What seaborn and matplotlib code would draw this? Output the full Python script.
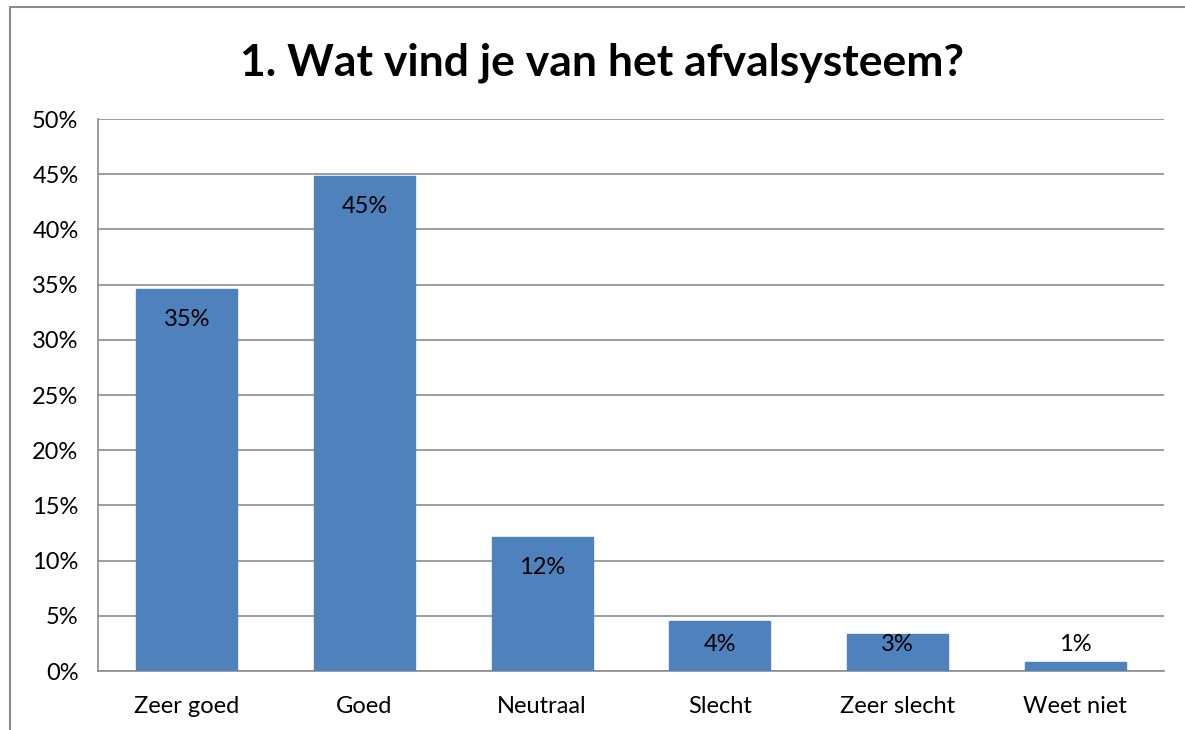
import matplotlib
matplotlib.use("Agg")
import matplotlib.pyplot as plt
from matplotlib.lines import Line2D
from matplotlib.ticker import MultipleLocator, FuncFormatter
import seaborn as sns
import pandas as pd

categories = ["Zeer goed", "Goed", "Neutraal", "Slecht", "Zeer slecht", "Weet niet"]
values = [34.6, 44.8, 12.1, 4.5, 3.35, 0.8]
labels = ["35%", "45%", "12%", "4%", "3%", "1%"]
title = "1. Wat vind je van het afvalsysteem?"

sns.set_style("white")
plt.rcParams["font.family"] = ["Lato", "DejaVu Sans"]
plt.rcParams["text.color"] = "black"

df = pd.DataFrame({"cat": categories, "val": values})

fig = plt.figure(figsize=(11.85, 7.3), dpi=100)
ax = fig.add_axes([98 / 1185, 59 / 730, (1164 - 98) / 1185, (671 - 119) / 730])

sns.barplot(data=df, x="cat", y="val", color="#4F81BD", saturation=1,
            width=0.57, ax=ax, zorder=3, edgecolor="#4F81BD")

ax.set_ylim(0, 50)
ax.set_xlim(-0.5, len(categories) - 0.5)
ax.yaxis.set_major_locator(MultipleLocator(5))
ax.yaxis.set_major_formatter(FuncFormatter(lambda v, p: f"{v:.0f}%"))
ax.grid(axis="y", color="#8c8c8c", linewidth=1.2, zorder=0)
ax.set_axisbelow(True)
ax.set_xlabel("")
ax.set_ylabel("")
for s in ["top", "right"]:
    ax.spines[s].set_visible(False)
for s in ["left", "bottom"]:
    ax.spines[s].set_color("#8c8c8c")
    ax.spines[s].set_linewidth(1.2)
ax.tick_params(axis="both", length=0, labelsize=17, colors="black")
ax.tick_params(axis="x", pad=18)
ax.tick_params(axis="y", pad=14)

# data labels: inside end, pushed up when bar is too short
for i, (v, lab) in enumerate(zip(values, labels)):
    y = max(v - 2.72, 2.36)
    ax.text(i, y, lab, ha="center", va="center", fontsize=17, color="black", zorder=4)

fig.suptitle(title, x=0.508, y=0.942, fontsize=32, fontweight="bold", color="black")

# outer chart frame
fig.add_artist(Line2D([10 / 1185, 10 / 1185], [0, 1 - 7 / 730], transform=fig.transFigure,
                      color="#8c8c8c", linewidth=1.5))
fig.add_artist(Line2D([10 / 1185, 1], [1 - 7 / 730, 1 - 7 / 730], transform=fig.transFigure,
                      color="#8c8c8c", linewidth=1.5))

fig.savefig("out.png", dpi=100)
